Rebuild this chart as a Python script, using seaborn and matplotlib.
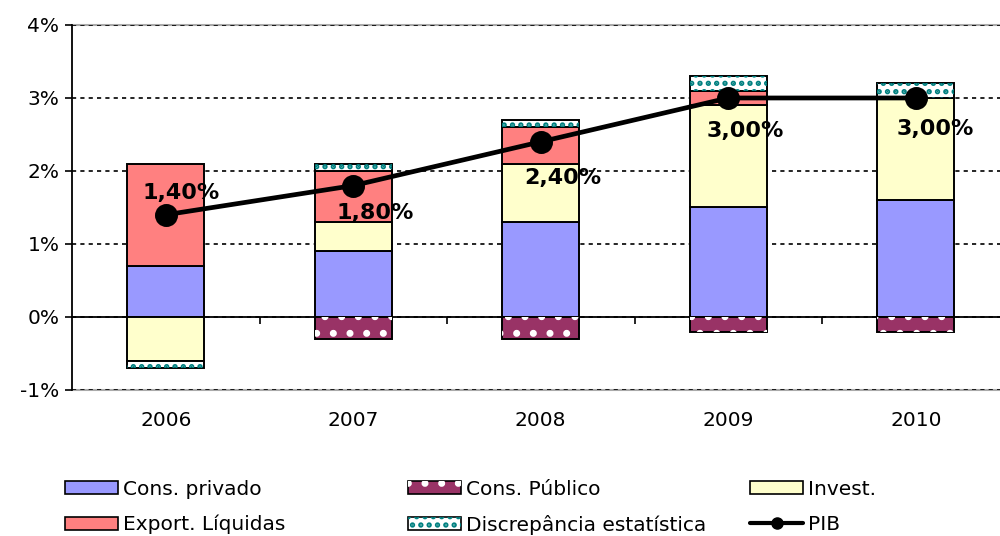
import numpy as np
import matplotlib
matplotlib.use("Agg")
import matplotlib.pyplot as plt
from matplotlib.patches import Patch
from matplotlib.lines import Line2D
from matplotlib.legend_handler import HandlerTuple
import seaborn as sns

# values (percentage points)
years = ["2006", "2007", "2008", "2009", "2010"]
cons_privado = [0.7, 0.9, 1.3, 1.5, 1.6]
cons_publico = [0.0, -0.3, -0.3, -0.2, -0.2]
invest = [-0.6, 0.4, 0.8, 1.4, 1.4]
export_liq = [1.4, 0.7, 0.5, 0.2, 0.0]
discrepancia = [-0.1, 0.1, 0.1, 0.2, 0.2]
pib = [1.4, 1.8, 2.4, 3.0, 3.0]
pib_labels = ["1,40%", "1,80%", "2,40%", "3,00%", "3,00%"]
y_ticks = [-1, 0, 1, 2, 3, 4]
y_tick_labels = ["-1%", "0%", "1%", "2%", "3%", "4%"]

sns.set_style("white")
plt.rcParams["font.family"] = ["DejaVu Sans"]
plt.rcParams["text.color"] = "black"
plt.rcParams["xtick.color"] = "black"
plt.rcParams["ytick.color"] = "black"
plt.rcParams["hatch.linewidth"] = 2.6

# (label, values, face colour, hatch, hatch colour)
layers = [
    ("Cons. privado", cons_privado, "#9999FF", None, None),
    ("Cons. Público", cons_publico, "#993366", ".", "white"),
    ("Invest.", invest, "#FFFFCC", None, None),
    ("Export. Líquidas", export_liq, "#FF8080", None, None),
    ("Discrepância estatística", discrepancia, "white", "..", "#008080"),
]

fig = plt.figure(figsize=(10, 5.36), dpi=100)
ax = fig.add_axes([0.072, 0.2724, 0.9375, 0.681])

bar_w = 0.41
pos_base = np.zeros(len(years))
neg_base = np.zeros(len(years))
for name, vals, face, hatch, hcol in layers:
    vals = np.asarray(vals, dtype=float)
    bottom = np.where(vals >= 0, pos_base, neg_base)
    sns.barplot(x=years, y=vals, bottom=bottom, color=face, saturation=1,
                width=bar_w, edgecolor="black", linewidth=1.4,
                errorbar=None, ax=ax, zorder=2)
    if hatch:
        # hatch drawn as a separate layer so the dots can have their own colour
        sns.barplot(x=years, y=vals, bottom=bottom, color=hcol, fill=False,
                    linewidth=0, hatch=hatch, width=bar_w,
                    errorbar=None, ax=ax, zorder=2.1)
    pos_base += np.where(vals >= 0, vals, 0)
    neg_base += np.where(vals < 0, vals, 0)

# PIB line
sns.pointplot(x=years, y=pib, color="black", markers="o", markersize=14,
              linewidth=3.4, errorbar=None, ax=ax, zorder=5)

label_offsets = [(11, 16), (16, -20), (16, -26), (12, -24), (14, -22)]
for i, (val, lab) in enumerate(zip(pib, pib_labels)):
    ax.annotate(lab, (i, val), xytext=label_offsets[i], textcoords="offset points",
                ha="center", va="center", fontsize=16, fontweight="bold",
                color="black", zorder=6)

ax.set_xlim(-0.5, len(years) - 0.5)
ax.set_ylim(y_ticks[0], y_ticks[-1])
ax.set_yticks(y_ticks)
ax.set_yticklabels(y_tick_labels)
ax.set_xlabel("")
ax.set_ylabel("")

ax.grid(axis="y", color="black", linestyle=(0, (2.5, 2.5)), linewidth=1.2)
ax.set_axisbelow(True)

for side in ["top", "bottom"]:
    ax.spines[side].set_color("#AAAAAA")
    ax.spines[side].set_linewidth(1.5)
    ax.spines[side].set_zorder(0.4)
ax.spines["right"].set_visible(False)
ax.spines["left"].set_color("black")
ax.spines["left"].set_linewidth(1.3)

ax.tick_params(axis="y", direction="out", length=5, width=1.2, pad=4,
               labelsize=14.5, left=True)
ax.tick_params(axis="x", length=0, pad=15, labelsize=14.5)

# zero axis with ticks between categories
zero_loc = (0 - y_ticks[0]) / (y_ticks[-1] - y_ticks[0])
sec = ax.secondary_xaxis(zero_loc)
sec.set_xticks(np.arange(len(years) - 1) + 0.5)
sec.set_xticklabels([])
sec.tick_params(axis="x", direction="out", length=5, width=1.2)
sec.spines["bottom"].set_color("black")
sec.spines["bottom"].set_linewidth(1.3)

# legend, one block per column
handles = {}
for name, vals, face, hatch, hcol in layers:
    base = Patch(facecolor=face, edgecolor="black", linewidth=1.2)
    if hatch:
        handles[name] = (base, Patch(facecolor="none", edgecolor=hcol,
                                     linewidth=0, hatch=hatch))
    else:
        handles[name] = base
handles["PIB"] = Line2D([], [], color="black", linewidth=3, marker="o", markersize=8)

columns = [["Cons. privado", "Export. Líquidas"],
           ["Cons. Público", "Discrepância estatística"],
           ["Invest.", "PIB"]]
col_x = [0.065, 0.408, 0.750]
for names, x0 in zip(columns, col_x):
    fig.legend([handles[n] for n in names], names, loc="upper left",
               bbox_to_anchor=(x0, 0.105), frameon=False, fontsize=14.5,
               handlelength=2.65, handleheight=0.6, handletextpad=0.25,
               labelspacing=0.8, borderpad=0, borderaxespad=0,
               handler_map={tuple: HandlerTuple(ndivide=1)})

fig.savefig("out.png", dpi=100)
